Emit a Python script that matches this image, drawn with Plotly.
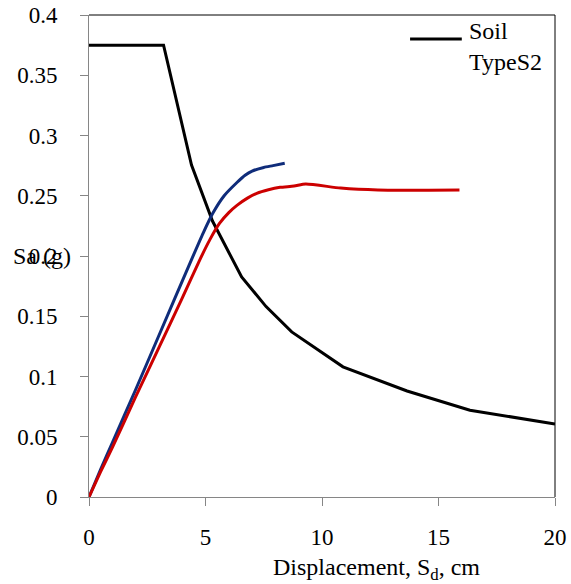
import plotly.graph_objects as go

# Demand spectrum (Soil Type S2)
soil_x = [0, 3.2, 4.4, 5.3, 6.55, 7.6, 8.7, 10.9, 13.65, 16.35, 20]
soil_y = [0.375, 0.375, 0.2755, 0.229, 0.1826, 0.158, 0.137, 0.108, 0.088, 0.072, 0.0606]

# Capacity curve 1 (blue)
blue_x = [0, 0.5, 1, 2, 3, 4.4, 4.9, 5.3, 5.8, 6.35, 6.7, 7.0, 7.5, 7.9, 8.4]
blue_y = [0, 0.023, 0.045, 0.089, 0.134, 0.197, 0.219, 0.235, 0.25, 0.261, 0.267, 0.2705, 0.2735, 0.275, 0.277]

# Capacity curve 2 (red)
red_x = [0, 0.5, 1, 2, 3, 4.0, 4.76, 5.2, 5.6, 6.0, 6.35, 6.8, 7.2, 7.7, 8.2, 8.8, 9.3, 10.8, 12.4, 15.9]
red_y = [0, 0.021, 0.041, 0.083, 0.124, 0.165, 0.197, 0.214, 0.227, 0.236, 0.242, 0.248, 0.252, 0.255, 0.257, 0.258, 0.2597, 0.2564, 0.2548, 0.2548]

x_ticks = [0, 5, 10, 15, 20]
y_ticks = [0, 0.05, 0.1, 0.15, 0.2, 0.25, 0.3, 0.35, 0.4]
y_labels = ["0", "0.05", "0.1", "0.15", "0.2", "0.25", "0.3", "0.35", "0.4"]

FONT = "'Liberation Serif', 'Times New Roman', serif"

fig = go.Figure()
fig.add_trace(go.Scatter(x=soil_x, y=soil_y, mode="lines",
                         line=dict(color="#000000", width=3), name="Soil TypeS2", showlegend=False))
fig.add_trace(go.Scatter(x=blue_x, y=blue_y, mode="lines", line_shape="spline",
                         line=dict(color="#0F2C7A", width=3, smoothing=0.6), showlegend=False))
fig.add_trace(go.Scatter(x=red_x, y=red_y, mode="lines", line_shape="spline",
                         line=dict(color="#CC0000", width=3, smoothing=0.6), showlegend=False))

fig.update_layout(
    template="none",
    width=571, height=584,
    margin=dict(l=89, r=16, t=15, b=87, autoexpand=False),
    paper_bgcolor="white", plot_bgcolor="white",
    font=dict(family=FONT, size=23, color="#000000"),
    xaxis=dict(range=[0, 20], tickvals=x_ticks, ticktext=[str(v) for v in x_ticks], automargin=False,
               showgrid=False, zeroline=False, showline=True, linecolor="#868686", linewidth=1,
               ticks="outside", ticklen=8, tickcolor="#868686", ticklabelstandoff=11,
               tickfont=dict(family=FONT, size=23, color="#000000")),
    yaxis=dict(range=[0, 0.4], tickvals=y_ticks, ticktext=y_labels, automargin=False,
               showgrid=False, zeroline=False, showline=True, linecolor="#868686", linewidth=1,
               ticks="outside", ticklen=8, tickcolor="#868686", ticklabelstandoff=18,
               tickfont=dict(family=FONT, size=23, color="#000000")),
)

# top and right borders
fig.add_shape(type="line", xref="paper", yref="paper", x0=0, x1=1, y0=1, y1=1,
              line=dict(color="#000000", width=1))
fig.add_shape(type="line", xref="paper", yref="paper", x0=1, x1=1, y0=0, y1=1,
              line=dict(color="#000000", width=1))

# legend (manual)
fig.add_shape(type="line", xref="paper", yref="paper", x0=0.689, x1=0.80, y0=0.950, y1=0.950,
              line=dict(color="#000000", width=3))
fig.add_annotation(xref="paper", yref="paper", x=0.812, y=0.997, xanchor="left", yanchor="top",
                   text="Soil<br>TypeS2", showarrow=False, align="left",
                   font=dict(family=FONT, size=24, color="#000000"))

# axis titles
fig.add_annotation(xref="paper", yref="paper", x=0.618, y=-0.15, xanchor="center", yanchor="middle",
                   text="Displacement, S<sub>d</sub>, cm", showarrow=False,
                   font=dict(family=FONT, size=24, color="#000000"))
fig.add_annotation(xref="paper", yref="y", x=-0.167, y=0.2, xanchor="left", yanchor="middle",
                   text="Sa (g)", showarrow=False,
                   font=dict(family=FONT, size=24, color="#000000"))

fig.write_html("out.html")
